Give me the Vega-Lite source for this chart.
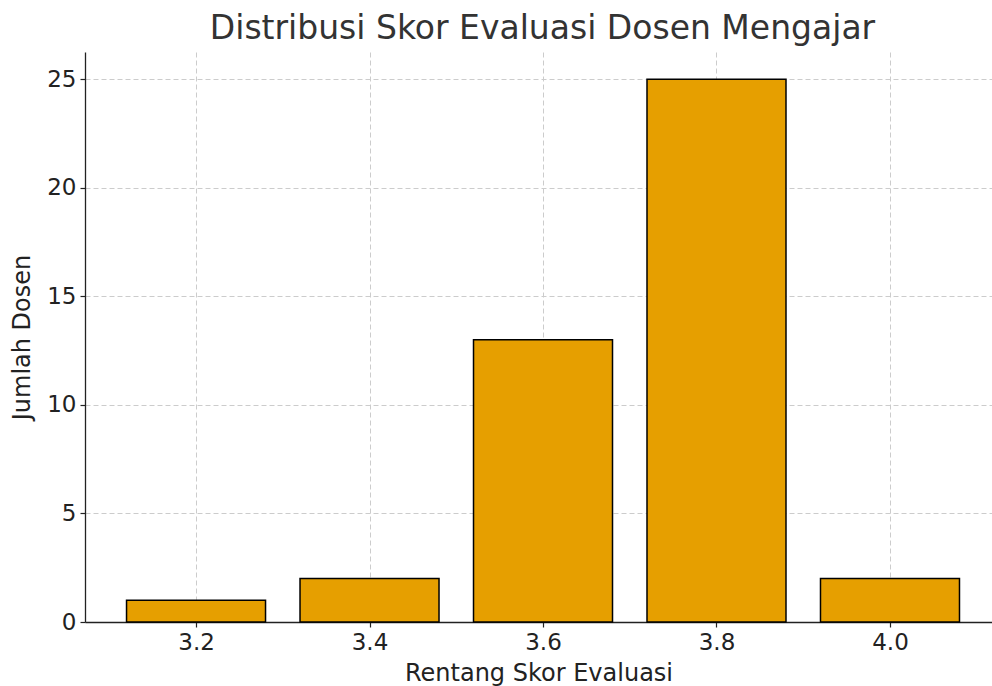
{
  "$schema": "https://vega.github.io/schema/vega-lite/v6.json",
  "autosize": "none",
  "padding": {"left": 85, "top": 52, "right": 0, "bottom": 64},
  "width": 907,
  "height": 570,
  "background": "white",
  "title": {
    "text": "Distribusi Skor Evaluasi Dosen Mengajar",
    "font": "DejaVu Sans",
    "fontSize": 33,
    "fontWeight": "normal",
    "color": "#333333",
    "anchor": "middle",
    "dx": 4,
    "offset": 6
  },
  "data": {
    "values": [
      {"skor": 3.2, "jumlah": 1},
      {"skor": 3.4, "jumlah": 2},
      {"skor": 3.6, "jumlah": 13},
      {"skor": 3.8, "jumlah": 25},
      {"skor": 4.0, "jumlah": 2}
    ]
  },
  "mark": {"type": "bar", "width": 139, "fill": "#E69F00", "stroke": "black", "strokeWidth": 1.5},
  "encoding": {
    "x": {
      "field": "skor",
      "type": "quantitative",
      "title": "Rentang Skor Evaluasi",
      "scale": {"domain": [3.072, 4.1176], "nice": false, "zero": false, "padding": 0},
      "axis": {"values": [3.2, 3.4, 3.6, 3.8, 4.0], "format": ".1f"}
    },
    "y": {
      "field": "jumlah",
      "type": "quantitative",
      "title": "Jumlah Dosen",
      "scale": {"domain": [0, 26.25], "nice": false, "padding": 0},
      "axis": {"values": [0, 5, 10, 15, 20, 25]}
    }
  },
  "config": {
    "view": {"stroke": null},
    "axis": {
      "zindex": 1,
      "domainColor": "#222222",
      "domainWidth": 1.3,
      "tickColor": "#222222",
      "tickSize": 5,
      "tickWidth": 1.2,
      "labelFont": "DejaVu Sans",
      "labelFontSize": 23,
      "labelColor": "#222222",
      "labelPadding": 4,
      "titleFont": "DejaVu Sans",
      "titleFontSize": 24,
      "titleFontWeight": "normal",
      "titleColor": "#222222",
      "grid": true,
      "gridColor": "#cccccc",
      "gridDash": [5, 3],
      "gridWidth": 1
    },
    "axisX": {"titlePadding": 7},
    "axisY": {"titlePadding": 12}
  }
}
